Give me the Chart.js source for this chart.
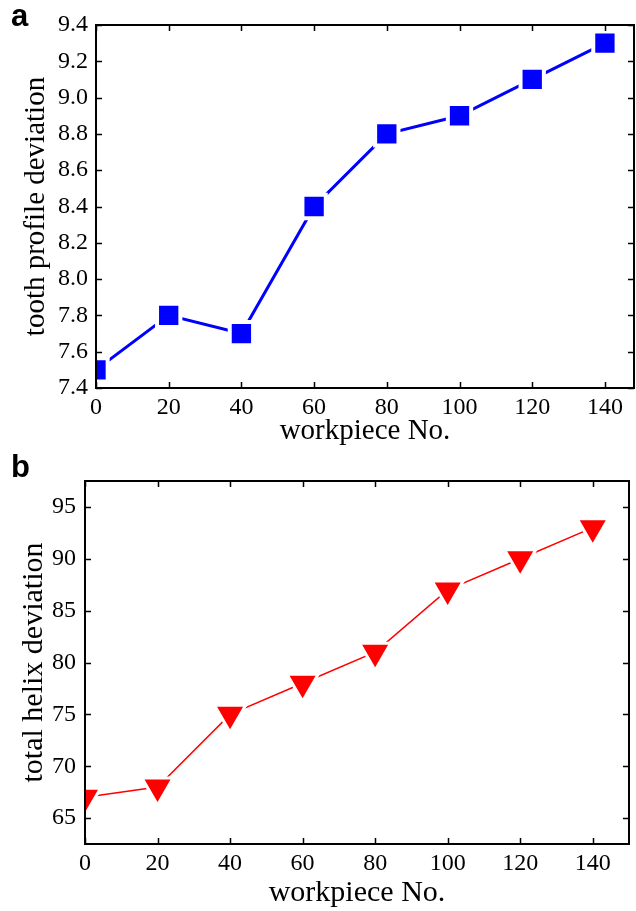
<!DOCTYPE html>
<html>
<head>
<meta charset="utf-8">
<script src="https://cdn.jsdelivr.net/npm/chart.js@4/dist/chart.umd.min.js"></script>
<style>
  html, body { margin: 0; padding: 0; background: #fff; }
  body { width: 636px; height: 911px; position: relative; overflow: hidden; }
  .wrap { position: absolute; left: 0; width: 636px; }
  #wa { top: 0; height: 446px; }
  #wb { top: 440px; height: 468px; }
</style>
</head>
<body>
<div class="wrap" id="wa"><canvas id="ca" width="636" height="446"></canvas></div>
<div class="wrap" id="wb"><canvas id="cb" width="636" height="468"></canvas></div>
<script>
// ---- data ----
const workpiece = [0, 20, 40, 60, 80, 100, 120, 140];
const toothProfile = [7.5, 7.8, 7.7, 8.4, 8.8, 8.9, 9.1, 9.3];
const totalHelix = [67, 68, 75, 78, 81, 87, 90, 93];
const xTicks = [0, 20, 40, 60, 80, 100, 120, 140];
const yTicksA = [7.4, 7.6, 7.8, 8.0, 8.2, 8.4, 8.6, 8.8, 9.0, 9.2, 9.4];
const yTicksB = [65, 70, 75, 80, 85, 90, 95];

const SERIF = "'Liberation Serif', 'Times New Roman', serif";

const boxPlugin = {
  id: 'box',
  afterDraw(chart, args, opts) {
    const {ctx, chartArea: a, scales} = chart;
    ctx.save();
    ctx.strokeStyle = '#000';
    ctx.lineWidth = 1.5;
    const tl = 6;
    ctx.beginPath();
    scales.x.ticks.forEach(t => {
      const px = Math.round(scales.x.getPixelForValue(t.value)) + 0.5;
      ctx.moveTo(px, a.bottom); ctx.lineTo(px, a.bottom - tl);
      ctx.moveTo(px, a.top); ctx.lineTo(px, a.top + tl);
    });
    scales.y.ticks.forEach(t => {
      const py = Math.round(scales.y.getPixelForValue(t.value)) + 0.5;
      ctx.moveTo(a.left, py); ctx.lineTo(a.left + tl, py);
      ctx.moveTo(a.right, py); ctx.lineTo(a.right - tl, py);
    });
    ctx.stroke();
    ctx.lineWidth = 2;
    ctx.strokeRect(a.left, a.top, a.right - a.left, a.bottom - a.top);
    // panel letter
    ctx.fillStyle = '#000';
    ctx.font = "bold 31px 'Liberation Sans', Arial, sans-serif";
    ctx.textBaseline = 'alphabetic';
    ctx.textAlign = 'left';
    ctx.fillText(opts.letter, opts.lx, opts.ly);
    ctx.restore();
  }
};

function makeChart(id, cfg) {
  return new Chart(document.getElementById(id), {
    type: 'line',
    data: {
      datasets: [{
        data: cfg.ys.map((y, i) => ({x: workpiece[i], y})),
        borderColor: cfg.color,
        borderWidth: cfg.lineWidth,
        backgroundColor: cfg.color,
        pointStyle: cfg.pointStyle,
        pointRotation: cfg.rotation,
        pointRadius: cfg.radius,
        pointHoverRadius: cfg.radius,
        pointBackgroundColor: cfg.color,
        pointBorderColor: '#ffffff',
        pointBorderWidth: cfg.halo,
        tension: 0,
        clip: 0
      }]
    },
    options: {
      responsive: false,
      animation: false,
      events: [],
      layout: { padding: cfg.padding, autoPadding: false },
      plugins: { legend: { display: false }, tooltip: { enabled: false }, box: { letter: cfg.letter, lx: 11, ly: cfg.ly } },
      scales: {
        x: {
          type: 'linear',
          min: 0,
          max: cfg.xMax,
          afterBuildTicks: s => { s.ticks = xTicks.map(v => ({value: v})); },
          afterFit: s => { s.height = cfg.xHeight; s.paddingLeft = 0; s.paddingRight = 0; },
          grid: { display: false, drawTicks: false },
          border: { display: false },
          ticks: { color: '#000', font: { family: SERIF, size: 24 }, padding: 5, maxRotation: 0 },
          title: { display: true, text: 'workpiece No.', color: '#000', font: { family: SERIF, size: cfg.titleSize, lineHeight: 1 }, padding: { top: 0, bottom: 0 } }
        },
        y: {
          min: cfg.yMin,
          max: cfg.yMax,
          afterBuildTicks: s => { s.ticks = cfg.yTicks.map(v => ({value: v})); },
          afterFit: s => { s.width = cfg.yWidth; s.paddingTop = 0; s.paddingBottom = 0; },
          grid: { display: false, drawTicks: false },
          border: { display: false },
          ticks: { color: '#000', font: { family: SERIF, size: 24 }, padding: cfg.yPad, callback: cfg.fmt },
          title: { display: true, text: cfg.yTitle, color: '#000', font: { family: SERIF, size: cfg.titleSize, lineHeight: 1 }, padding: { top: cfg.yTitlePad, bottom: 0 } }
        }
      }
    },
    plugins: [boxPlugin]
  });
}

makeChart('ca', {
  ys: toothProfile, color: '#0000ff', lineWidth: 3,
  pointStyle: 'rect', rotation: 0, radius: 16.5, halo: 4,
  padding: { top: 25, right: 2, left: 0, bottom: 0 },
  xMax: 148, xHeight: 58, yMin: 7.4, yMax: 9.4, yTicks: yTicksA, yWidth: 96, yPad: 8,
  fmt: v => Number(v).toFixed(1), yTitle: 'tooth profile deviation', yTitlePad: 21.5,
  titleSize: 29, letter: 'a', ly: 26
});

makeChart('cb', {
  ys: totalHelix, color: '#ff0000', lineWidth: 1.5,
  pointStyle: 'triangle', rotation: 180, radius: 18, halo: 3,
  padding: { top: 41, right: 7, left: 0, bottom: 0 },
  xMax: 150, xHeight: 64, yMin: 62.5, yMax: 97.5, yTicks: yTicksB, yWidth: 85, yPad: 9,
  fmt: v => String(v), yTitle: 'total helix deviation', yTitlePad: 19,
  titleSize: 30, letter: 'b', ly: 37
});
</script>
</body>
</html>
